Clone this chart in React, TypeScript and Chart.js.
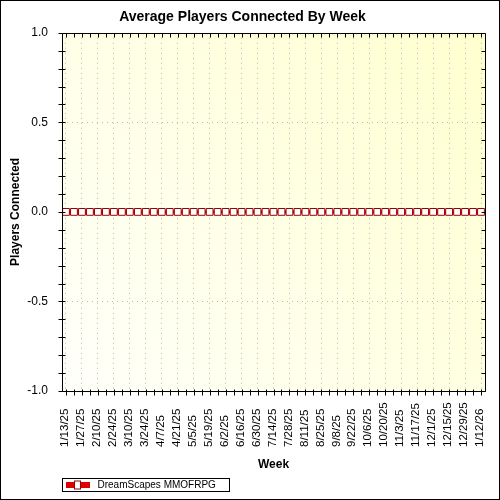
import React, { useEffect, useRef } from "react";
import { Chart, registerables } from "chart.js";

Chart.register(...registerables);

const chartTitle = "Average Players Connected By Week";
const xAxisTitle = "Week";
const yAxisTitle = "Players Connected";
const seriesLabel = "DreamScapes MMOFRPG";

const weeks = [
  "1/13/25", "1/20/25", "1/27/25", "2/3/25", "2/10/25", "2/17/25", "2/24/25",
  "3/3/25", "3/10/25", "3/17/25", "3/24/25", "3/31/25", "4/7/25", "4/14/25",
  "4/21/25", "4/28/25", "5/5/25", "5/12/25", "5/19/25", "5/26/25", "6/2/25",
  "6/9/25", "6/16/25", "6/23/25", "6/30/25", "7/7/25", "7/14/25", "7/21/25",
  "7/28/25", "8/4/25", "8/11/25", "8/18/25", "8/25/25", "9/1/25", "9/8/25",
  "9/15/25", "9/22/25", "9/29/25", "10/6/25", "10/13/25", "10/20/25", "10/27/25",
  "11/3/25", "11/10/25", "11/17/25", "11/24/25", "12/1/25", "12/8/25", "12/15/25",
  "12/22/25", "12/29/25", "1/5/26", "1/12/26",
];

const playersConnected = [
  0, 0, 0, 0, 0, 0, 0, 0, 0, 0,
  0, 0, 0, 0, 0, 0, 0, 0, 0, 0,
  0, 0, 0, 0, 0, 0, 0, 0, 0, 0,
  0, 0, 0, 0, 0, 0, 0, 0, 0, 0,
  0, 0, 0, 0, 0, 0, 0, 0, 0, 0,
  0, 0, 0,
];

const yMin = -1;
const yMax = 1;
const yMinorStep = 0.1;
const yLabelStep = 0.5;
const xLabelEvery = 2;

const FONT = "'Liberation Sans', Arial, sans-serif";
const LINE_COLOR = "#B80000";
const POINT_BORDER = "#990000";
const LEGEND_RED = "#E00000";

const isLabelStep = (v: number) =>
  Math.abs(v / yLabelStep - Math.round(v / yLabelStep)) < 1e-6;

const backgroundPlugin = {
  id: "bgFrame",
  beforeDraw(chart: any) {
    const { ctx, chartArea: a, width, height } = chart;
    ctx.save();
    ctx.fillStyle = "#FFFFFF";
    ctx.fillRect(0, 0, width, height);
    const g = ctx.createLinearGradient(a.left, a.bottom, a.right, a.top);
    g.addColorStop(0, "#FFFFFA");
    g.addColorStop(1, "#FFFFCF");
    ctx.fillStyle = g;
    ctx.fillRect(a.left, a.top, a.right - a.left, a.bottom - a.top);
    ctx.restore();
  },
  afterDraw(chart: any) {
    const { ctx, chartArea: a, width, height } = chart;
    const xs = chart.scales.x;
    const ys = chart.scales.y;
    ctx.save();
    ctx.strokeStyle = "#000";
    ctx.lineWidth = 1;
    ctx.strokeRect(0.5, 0.5, width - 1, height - 1);

    const L = Math.round(a.left) + 0.5;
    const R = Math.round(a.right) + 0.5;
    const T = Math.round(a.top) + 0.5;
    const B = Math.round(a.bottom) + 0.5;
    ctx.beginPath();
    ctx.rect(L, T, R - L, B - T);
    ctx.stroke();

    ctx.beginPath();
    for (let i = 0; i < xs.ticks.length; i++) {
      const x = Math.round(xs.getPixelForTick(i)) + 0.5;
      ctx.moveTo(x, B - 2);
      ctx.lineTo(x, B + 4);
      ctx.moveTo(x, T);
      ctx.lineTo(x, T + 4);
    }
    for (let i = 0; i < ys.ticks.length; i++) {
      const y = Math.round(ys.getPixelForTick(i)) + 0.5;
      ctx.moveTo(L - 4, y);
      ctx.lineTo(L + 3, y);
      ctx.moveTo(R - 4, y);
      ctx.lineTo(R, y);
    }
    ctx.stroke();

    ctx.fillStyle = "#000";
    ctx.font = `11.5px ${FONT}`;
    ctx.textAlign = "left";
    ctx.textBaseline = "middle";
    const labels = chart.data.labels as string[];
    for (let i = 0; i < xs.ticks.length; i += xLabelEvery) {
      const x = xs.getPixelForTick(i);
      ctx.save();
      ctx.translate(x - 1, a.bottom + 56);
      ctx.rotate(-Math.PI / 2);
      ctx.fillText(labels[i], 0, 0);
      ctx.restore();
    }

    const ds = chart.data.datasets[0];
    const lx = Math.round(a.left) + 0.5;
    const ly = Math.round(a.bottom) + 87.5;
    ctx.strokeStyle = "#000";
    ctx.strokeRect(lx, ly, 167, 13);
    ctx.fillStyle = LEGEND_RED;
    ctx.fillRect(lx + 3.5, ly + 3.5, 24, 6);
    ctx.fillStyle = "#FFFFFF";
    ctx.fillRect(lx + 12.5, ly + 3, 5, 7);
    ctx.strokeStyle = POINT_BORDER;
    ctx.strokeRect(lx + 12, ly + 2.5, 6, 8);
    ctx.fillStyle = "#000";
    ctx.font = `10px ${FONT}`;
    ctx.textAlign = "left";
    ctx.textBaseline = "middle";
    ctx.fillText(ds.label, lx + 35, ly + 7);
    ctx.restore();
  },
};

export default function App() {
  const ref = useRef<HTMLCanvasElement | null>(null);

  useEffect(() => {
    document.body.style.margin = "0";
    if (!ref.current) return;
    const chart = new Chart(ref.current, {
      type: "line",
      data: {
        labels: weeks,
        datasets: [
          {
            label: seriesLabel,
            data: playersConnected,
            borderColor: LINE_COLOR,
            borderWidth: 3,
            pointStyle: "rect",
            pointRadius: 4.8,
            pointBorderWidth: 1,
            pointBorderColor: POINT_BORDER,
            pointBackgroundColor: "#FFFFFF",
            tension: 0,
          },
        ],
      },
      options: {
        animation: false,
        responsive: false,
        devicePixelRatio: 1,
        layout: { padding: { top: 0, right: 15, bottom: 24, left: 0 } },
        plugins: {
          legend: { display: false },
          tooltip: { enabled: false },
          title: {
            display: true,
            text: chartTitle,
            color: "#000",
            font: { family: FONT, size: 14, weight: "bold" },
            padding: { top: 9, bottom: 7 },
          },
        },
        scales: {
          x: {
            type: "category",
            offset: true,
            border: { display: false, dash: [1, 4] },
            grid: {
              display: true,
              drawTicks: false,
              offset: false,
              color: (c: any) =>
                c.index % xLabelEvery === 0 ? "#B8B8B8" : "rgba(0,0,0,0)",
              lineWidth: 1,
            },
            ticks: { display: false, autoSkip: false },
            title: {
              display: true,
              text: xAxisTitle,
              color: "#000",
              font: { family: FONT, size: 12, weight: "bold" },
              padding: { top: 0, bottom: 4 },
            },
            afterFit: (s: any) => {
              s.height = 85;
            },
          } as any,
          y: {
            min: yMin,
            max: yMax,
            border: { display: false, dash: [1, 4] },
            grid: {
              display: true,
              drawTicks: false,
              color: (c: any) =>
                c.tick && isLabelStep(c.tick.value) && Math.abs(c.tick.value) < yMax - 1e-6
                  ? "#B8B8B8"
                  : "rgba(0,0,0,0)",
              lineWidth: 1,
            },
            ticks: {
              stepSize: yMinorStep,
              autoSkip: false,
              padding: 14,
              color: "#000",
              font: { family: FONT, size: 12 },
              callback: (v: any) => (isLabelStep(Number(v)) ? Number(v).toFixed(1) : ""),
            },
            title: {
              display: true,
              text: yAxisTitle,
              color: "#000",
              font: { family: FONT, size: 12, weight: "bold" },
              padding: { top: 8, bottom: 0 },
            },
            afterFit: (s: any) => {
              s.width = 62;
            },
          } as any,
        },
      },
      plugins: [backgroundPlugin],
    });
    return () => chart.destroy();
  }, []);

  return (
    <div style={{ width: 500, height: 500 }}>
      <canvas ref={ref} width={500} height={500} style={{ width: 500, height: 500, display: "block" }} />
    </div>
  );
}
